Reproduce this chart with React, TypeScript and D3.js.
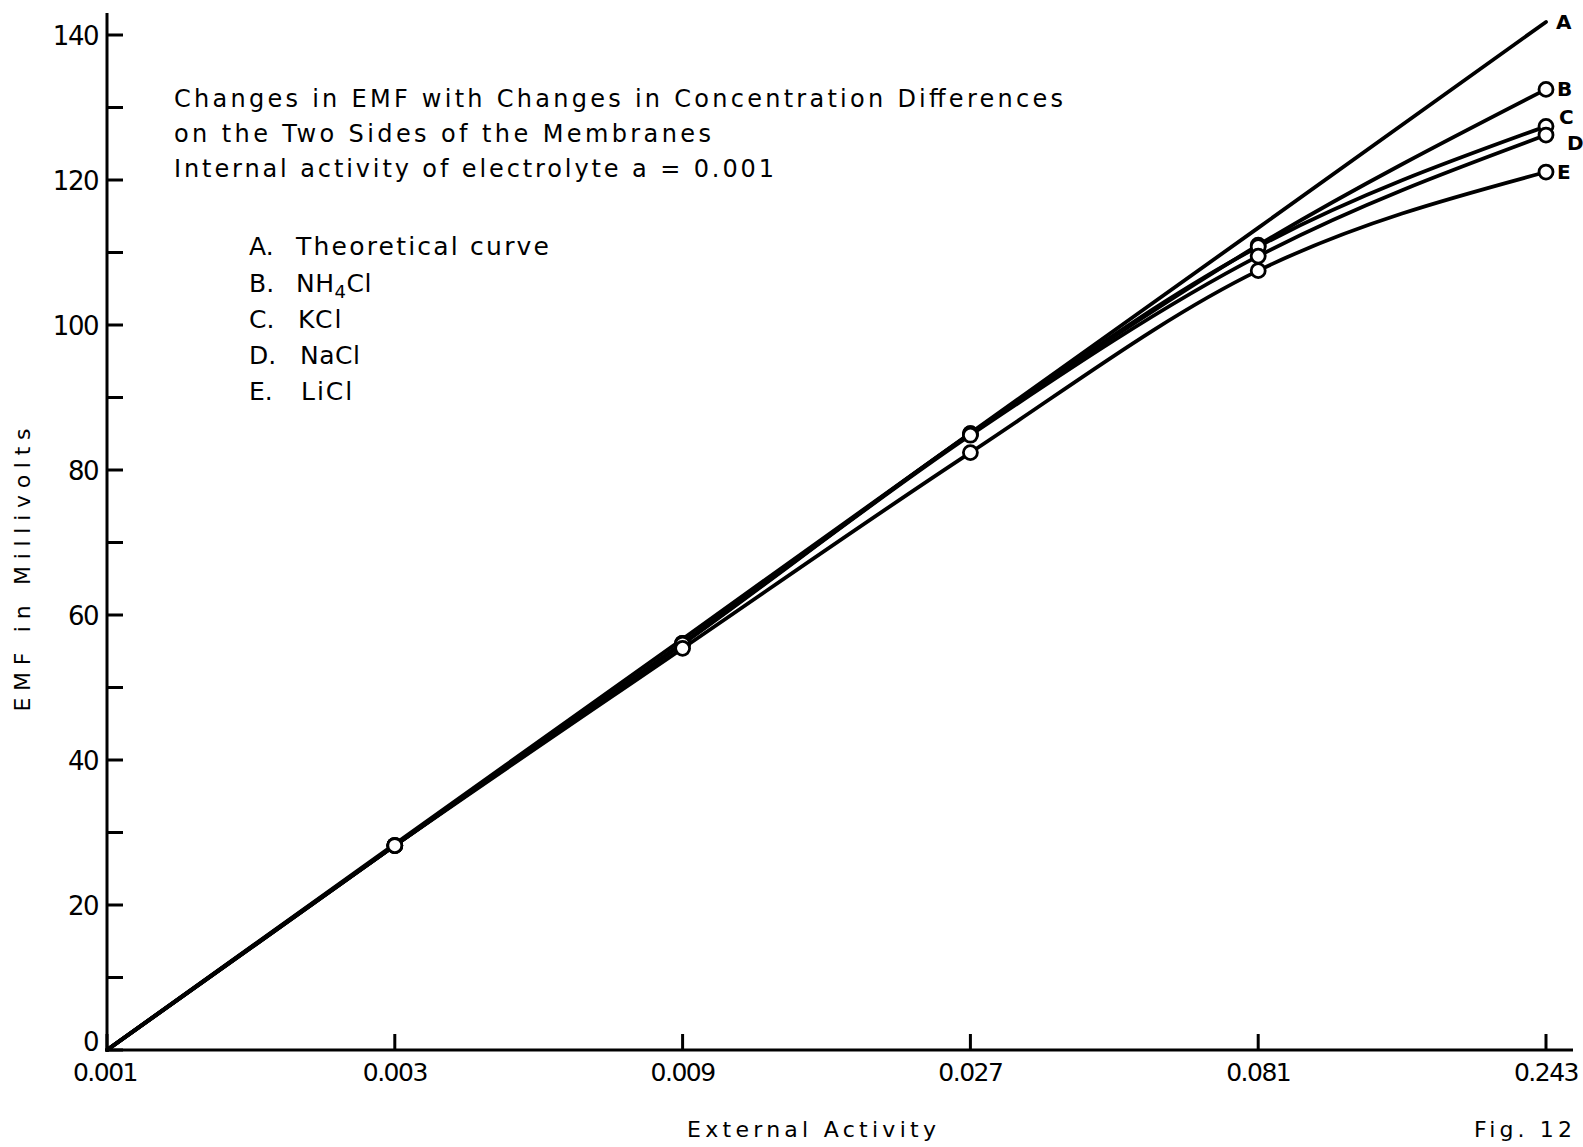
import React from 'react';
import * as d3 from 'd3';

// ---- data ----
const activities = [0.001, 0.003, 0.009, 0.027, 0.081, 0.243];
const activityLabels = ['0.001', '0.003', '0.009', '0.027', '0.081', '0.243'];
const theoretical = [0, 28.4, 56.7, 85.1, 113.4, 141.8]; // A
const nh4cl = [0, 28.2, 56.1, 85.0, 111.0, 132.5]; // B
const kcl = [0, 28.2, 56.1, 85.0, 110.8, 127.4]; // C
const nacl = [0, 28.2, 56.0, 84.8, 109.5, 126.2]; // D
const licl = [0, 28.2, 55.4, 82.4, 107.5, 121.1]; // E
const yMinorTicks = [0, 10, 20, 30, 40, 50, 60, 70, 80, 90, 100, 110, 120, 130, 140];
const yMajorTicks = [0, 20, 40, 60, 80, 100, 120, 140];
const curveLetters = ['A', 'B', 'C', 'D', 'E'];
const legendLetters = ['A.', 'B.', 'C.', 'D.', 'E.'];
const titleLines = [
  'Changes in EMF with Changes in Concentration Differences',
  'on the Two Sides of the Membranes',
  'Internal activity of electrolyte a = 0.001',
];

const FONT = '"DejaVu Sans", sans-serif';

export default function App() {
  const x = d3.scaleLog().base(3).domain([0.001, 0.243]).range([107, 1546]);
  const y = d3.scaleLinear().domain([0, 140]).range([1050, 35]);

  const series = [theoretical, nh4cl, kcl, nacl, licl];
  const lineStraight = d3
    .line<number>()
    .x((_, i) => x(activities[i]))
    .y((d) => y(d))
    .curve(d3.curveLinear);
  const lineCurve = d3
    .line<number>()
    .x((_, i) => x(activities[i]))
    .y((d) => y(d))
    .curve(d3.curveMonotoneX);

  const endLabelPos = [
    { dx: 10, dy: 7 },
    { dx: 11, dy: 7 },
    { dx: 13, dy: -2 },
    { dx: 21, dy: 15 },
    { dx: 11, dy: 7 },
  ];

  const legendBaselines = [255, 292, 328, 364, 400];

  return (
    <svg
      width={1583}
      height={1147}
      style={{ position: 'absolute', left: 0, top: 0, background: '#fff' }}
      fontFamily={FONT}
    >
      <rect x={0} y={0} width={1583} height={1147} fill="#fff" />

      {/* axes */}
      <line x1={107} y1={13} x2={107} y2={1051.5} stroke="#000" strokeWidth={3} />
      <line x1={105.5} y1={1050} x2={1573} y2={1050} stroke="#000" strokeWidth={3} />

      {yMinorTicks.map((t) => (
        <line key={'yt' + t} x1={107} x2={123} y1={y(t)} y2={y(t)} stroke="#000" strokeWidth={3} />
      ))}
      {yMajorTicks.map((t) => (
        <text
          key={'yl' + t}
          x={98}
          y={y(t) + (t === 0 ? -7 : 2)}
          textAnchor="end"
          dominantBaseline="middle"
          fontSize={26}
          letterSpacing={-1.5}
        >
          {t}
        </text>
      ))}

      {activities.map((a, i) => (
        <line key={'xt' + i} x1={x(a)} x2={x(a)} y1={1050} y2={1034} stroke="#000" strokeWidth={3} />
      ))}
      {activities.map((a, i) => (
        <text
          key={'xl' + i}
          x={x(a) - (i === 0 ? 2 : 0)}
          y={1081}
          textAnchor="middle"
          fontSize={25}
          letterSpacing={-1.5}
        >
          {activityLabels[i]}
        </text>
      ))}

      {/* axis titles */}
      <text
        transform="translate(30,570) rotate(-90)"
        textAnchor="middle"
        fontSize={22}
        textLength={283}
        lengthAdjust="spacing"
      >
        EMF in Millivolts
      </text>
      <text x={687} y={1137} fontSize={22} textLength={249} lengthAdjust="spacing">
        External Activity
      </text>
      <text x={1474} y={1137} fontSize={22} textLength={98} lengthAdjust="spacing">
        Fig. 12
      </text>

      {/* title block */}
      {titleLines.map((t, i) => (
        <text
          key={'tt' + i}
          x={174}
          y={107 + i * 35}
          fontSize={24}
          textLength={[889, 537, 600][i]}
          lengthAdjust="spacing"
        >
          {t}
        </text>
      ))}

      {/* legend */}
      {legendLetters.map((l, i) => (
        <text key={'ll' + i} x={249} y={legendBaselines[i]} fontSize={25}>
          {l}
        </text>
      ))}
      <text x={296} y={legendBaselines[0]} fontSize={25} textLength={253} lengthAdjust="spacing">
        Theoretical curve
      </text>
      <text x={296} y={legendBaselines[1]} fontSize={25} letterSpacing={0.5}>
        NH
        <tspan fontSize={18} dy={6}>4</tspan>
        <tspan dy={-6}>Cl</tspan>
      </text>
      <text x={298} y={legendBaselines[2]} fontSize={25} letterSpacing={2}>
        KCl
      </text>
      <text x={300} y={legendBaselines[3]} fontSize={25} letterSpacing={0.5}>
        NaCl
      </text>
      <text x={301} y={legendBaselines[4]} fontSize={25} letterSpacing={2}>
        LiCl
      </text>

      {/* curves */}
      {series.map((s, k) => (
        <path
          key={'p' + k}
          d={(k === 0 ? lineStraight : lineCurve)(s) || ''}
          fill="none"
          stroke="#000"
          strokeWidth={3.8}
          strokeLinejoin="round"
          strokeLinecap="round"
        />
      ))}

      {/* markers */}
      {series.slice(1).map((s, k) =>
        s.map((v, i) =>
          i === 0 ? null : (
            <circle
              key={'c' + k + '-' + i}
              cx={x(activities[i])}
              cy={y(v)}
              r={7}
              fill="#fff"
              stroke="#000"
              strokeWidth={2.8}
            />
          )
        )
      )}

      {/* curve end labels */}
      {series.map((s, k) => (
        <text
          key={'el' + k}
          x={x(activities[5]) + endLabelPos[k].dx}
          y={y(s[5]) + endLabelPos[k].dy}
          fontSize={20}
          fontWeight="bold"
        >
          {curveLetters[k]}
        </text>
      ))}
    </svg>
  );
}
